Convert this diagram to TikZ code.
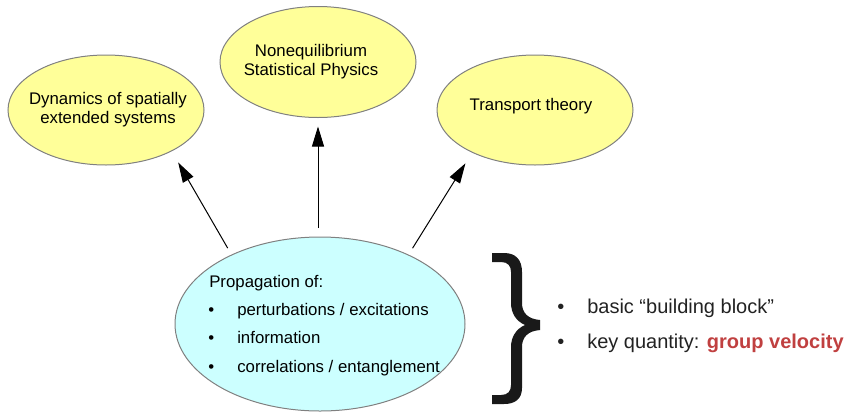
\documentclass[tikz,border=0pt]{standalone}
\usepackage{fontspec}
\setmainfont{Liberation Sans}
\usetikzlibrary{arrows.meta,shapes.geometric}
\definecolor{ellyellow}{RGB}{255,255,153}
\definecolor{ellcyan}{RGB}{204,255,255}
\definecolor{ellborder}{RGB}{128,128,128}
\definecolor{accentred}{RGB}{192,64,64}
\definecolor{textgray}{RGB}{34,34,34}
\tikzset{
  bubble/.style={ellipse, draw=ellborder, line width=0.75pt, inner sep=0pt, outer sep=0pt},
  ytopic/.style={bubble, fill=ellyellow, minimum width=147pt, minimum height=82.5pt},
  ctopic/.style={bubble, fill=ellcyan, minimum width=217.5pt, minimum height=130.5pt},
  etext/.style={align=center, font=\fontsize{12.6}{14.2}\selectfont, inner sep=0pt},
  btext/.style={anchor=base west, font=\fontsize{12.6}{14}\selectfont, inner sep=0pt},
  rtext/.style={anchor=base west, font=\fontsize{15}{18}\selectfont, text=textgray, inner sep=0pt},
  arr/.style={-{Triangle[length=15pt,width=9pt]}, line width=0.75pt}
}
\begin{document}
\begin{tikzpicture}[x=0.75pt,y=-0.75pt]
\useasboundingbox (0,0) rectangle (847,412);
% ellipses
\node[ytopic] (lft) at (106,110) {};
\node[ytopic, minimum height=83.25pt] (mid) at (318,62) {};
\node[ytopic] (rgt) at (535,110) {};
\node[ctopic] (bot) at (320,324) {};
% ellipse texts
\node[etext] (lt) at (108,110) {Dynamics of spatially\\extended systems};
\node[etext] (mt) at (311,62) {Nonequilibrium\\Statistical Physics};
\node[etext] (rt) at (531,106) {Transport theory};
% bottom texts
\node[btext] (p0) at (209,287) {Propagation of:};
\node[btext] (b1) at (208,315) {•};
\node[btext] (p1) at (237,315) {perturbations / excitations};
\node[btext] (b2) at (208,343.5) {•};
\node[btext] (p2) at (237,343.5) {information};
\node[btext] (b3) at (208,372) {•};
\node[btext] (p3) at (237,372) {correlations / entanglement};
% arrows
\draw[arr, shorten <=6pt, shorten >=10pt] (bot.142.2) -- (lft.-32.8);
\draw[arr, shorten <=6.75pt, shorten >=6.75pt] (bot.north -| mid.south) -- (mid.south);
\draw[arr, shorten <=6pt, shorten >=9.75pt] (bot.38.2) -- (rgt.-146.4);
% brace
\fill[black!90] (492,253) -- (504,253) .. controls (516,253) and (522,260) .. (522,272)
  -- (522,303) .. controls (522,313) and (528,319) .. (540,320) -- (540,330)
  .. controls (528,331) and (522,337) .. (522,347) -- (522,388)
  .. controls (522,399) and (515,404) .. (504,404) -- (492,404) -- (492,395) -- (501,395)
  .. controls (508,395) and (511,391) .. (511,385) -- (511,347)
  .. controls (511,337) and (516,329) .. (525,325)
  .. controls (516,321) and (511,313) .. (511,303) -- (511,272)
  .. controls (511,266) and (508,262) .. (501,262) -- (492,262) -- cycle;
% right texts
\node[rtext] (rb1) at (557,313) {•};
\node[rtext] (r1) at (587,313) {basic “building block”};
\node[rtext] (rb2) at (557,348) {•};
\node[rtext] (r2) at (587,348) {key quantity: \textcolor{accentred}{\textbf{group velocity}}};
\end{tikzpicture}
\end{document}
